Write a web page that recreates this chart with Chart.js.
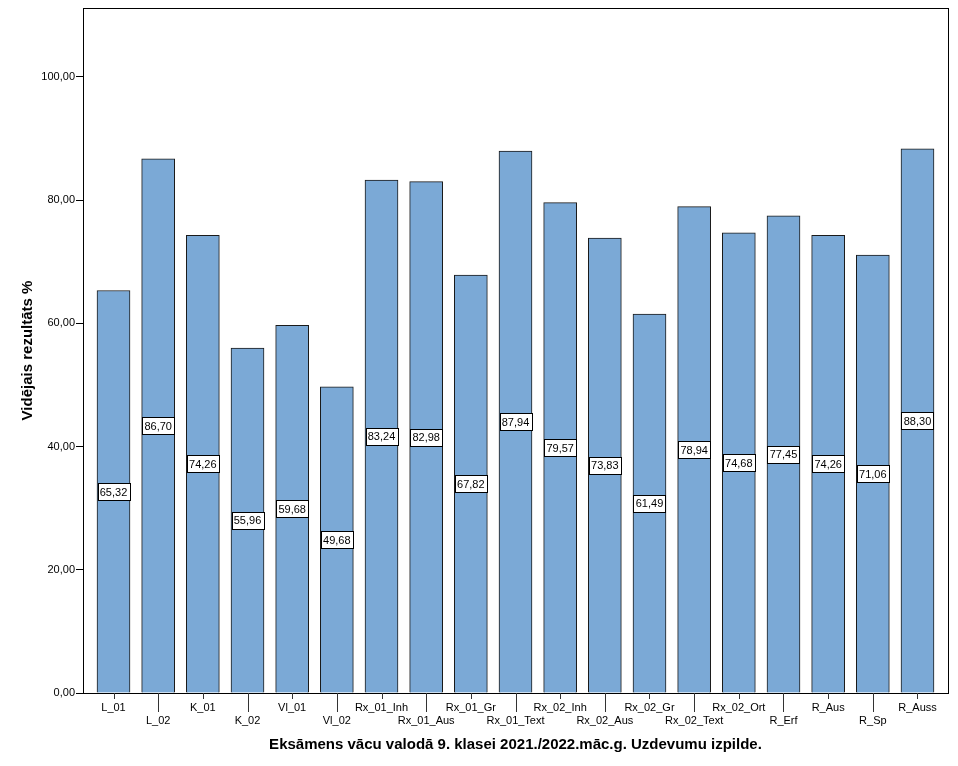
<!DOCTYPE html>
<html lang="lv">
  <head>
    <meta charset="utf-8" />
    <script src="https://cdn.jsdelivr.net/npm/chart.js"></script>
    <title>Uzdevumu izpilde</title>
    <style>
      body {
        margin: 0;
        padding: 0;
        background: #fff;
      }
      #wrap {
        width: 958px;
        height: 766px;
      }
    </style>
  </head>
  <body>
    <div id="wrap"><canvas id="myChart" width="958" height="766"></canvas></div>

    <script>
      // dati
      var uzdevumi = ["L_01", "L_02", "K_01", "K_02", "Vl_01", "Vl_02", "Rx_01_Inh", "Rx_01_Aus",
        "Rx_01_Gr", "Rx_01_Text", "Rx_02_Inh", "Rx_02_Aus", "Rx_02_Gr", "Rx_02_Text", "Rx_02_Ort",
        "R_Erf", "R_Aus", "R_Sp", "R_Auss"];
      var rezultati = [65.32, 86.70, 74.26, 55.96, 59.68, 49.68, 83.24, 82.98, 67.82, 87.94,
        79.57, 73.83, 61.49, 78.94, 74.68, 77.45, 74.26, 71.06, 88.30];
      var yTicks = [0, 20, 40, 60, 80, 100];

      function fmt(v) {
        return v.toFixed(2).replace('.', ',');
      }

      var fonts = '"Liberation Sans", Arial, sans-serif';

      // rāmis, x iezīmes (īsās un garās) un vērtību etiķetes
      var extras = {
        id: 'extras',
        afterDatasetsDraw: function (chart) {
          var ctx = chart.ctx;
          var meta = chart.getDatasetMeta(0);
          ctx.save();
          ctx.font = '11px ' + fonts;
          ctx.textAlign = 'center';
          ctx.textBaseline = 'middle';
          meta.data.forEach(function (bar, i) {
            var cy = (bar.y + bar.base) / 2;
            var w = 32, h = 17;
            var x0 = Math.round(bar.x - w / 2) + 0.5;
            var y0 = Math.round(cy - h / 2) + 0.5;
            ctx.fillStyle = '#fff';
            ctx.fillRect(x0, y0, w, h);
            ctx.strokeStyle = '#000';
            ctx.lineWidth = 1;
            ctx.strokeRect(x0, y0, w, h);
            ctx.fillStyle = '#000';
            ctx.fillText(fmt(rezultati[i]), bar.x, cy + 1);
          });
          ctx.restore();
        },
        afterDraw: function (chart) {
          var ctx = chart.ctx;
          var a = chart.chartArea;
          var xs = chart.scales.x;
          ctx.save();
          ctx.strokeStyle = '#000';
          ctx.lineWidth = 1;
          ctx.strokeRect(Math.round(a.left) + 0.5, Math.round(a.top) + 0.5,
            Math.round(a.right - a.left), Math.round(a.bottom - a.top));
          ctx.strokeStyle = '#333';
          uzdevumi.forEach(function (u, i) {
            var px = Math.round(xs.getPixelForValue(i)) + 0.5;
            ctx.beginPath();
            ctx.moveTo(px, a.bottom);
            ctx.lineTo(px, a.bottom + (i % 2 === 1 ? 19 : 6));
            ctx.stroke();
          });
          ctx.restore();
        }
      };

      var config = {
        type: 'bar',
        data: {
          datasets: [{
            data: rezultati.map(function (v, i) { return { x: i, y: v }; }),
            backgroundColor: '#7BA9D6',
            borderColor: '#1a1a1a',
            borderWidth: 1,
            barThickness: 33
          }]
        },
        plugins: [extras],
        options: {
          responsive: false,
          animation: false,
          layout: { padding: { top: 8, right: 10, left: 0, bottom: 0 } },
          plugins: {
            legend: { display: false },
            tooltip: { enabled: false }
          },
          scales: {
            x: {
              type: 'linear',
              offset: false,
              min: -0.683,
              max: uzdevumi.length - 1 + 0.683,
              afterBuildTicks: function (s) {
                s.ticks = uzdevumi.map(function (u, i) { return { value: i }; });
              },
              afterFit: function (s) { s.height = 73; },
              grid: { drawOnChartArea: false, drawTicks: false, offset: false },
              border: { display: true, color: '#000' },
              ticks: {
                autoSkip: false,
                maxRotation: 0,
                padding: 8,
                color: '#000',
                font: { family: fonts, size: 11 },
                callback: function (v) {
                  var i = Math.round(v);
                  return i % 2 === 1 ? ['', uzdevumi[i]] : uzdevumi[i];
                }
              },
              title: {
                display: true,
                text: 'Eksāmens vācu valodā 9. klasei 2021./2022.māc.g. Uzdevumu izpilde.',
                color: '#000',
                font: { family: fonts, size: 15, weight: 'bold' },
                padding: { top: 0, bottom: 12 }
              }
            },
            y: {
              min: 0,
              max: 111.16,
              afterBuildTicks: function (s) {
                s.ticks = yTicks.map(function (v) { return { value: v }; });
              },
              afterFit: function (s) { s.width = 83; },
              grid: { drawOnChartArea: false, tickLength: 7, color: '#000' },
              border: { display: true, color: '#000' },
              ticks: {
                padding: 1,
                color: '#000',
                font: { family: fonts, size: 11 },
                callback: function (v) { return fmt(v); }
              },
              title: {
                display: true,
                text: 'Vidējais rezultāts %',
                color: '#000',
                font: { family: fonts, size: 15, weight: 'bold' },
                padding: { top: 19, bottom: 0 }
              }
            }
          }
        }
      };

      var ctx = document.getElementById('myChart').getContext('2d');
      var myChart = new Chart(ctx, config);
    </script>
  </body>
</html>
